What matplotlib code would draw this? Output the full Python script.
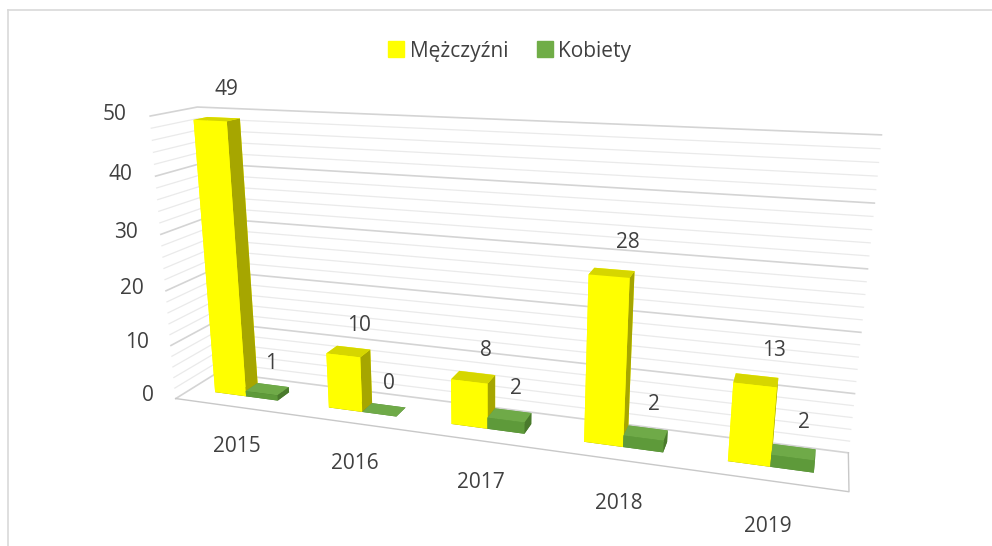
import numpy as np
import matplotlib
matplotlib.use("Agg")
import matplotlib.pyplot as plt
from matplotlib.lines import Line2D
from matplotlib.text import Text

years = ["2015", "2016", "2017", "2018", "2019"]
men = [49, 10, 8, 28, 13]
women = [1, 0, 2, 2, 2]
series_names = ["Mężczyźni", "Kobiety"]
z_ticks = [0, 10, 20, 30, 40, 50]
z_minor_step = 2

FONT = "Open Sans"
TXT = "#404040"
FS = 15

fig = plt.figure(figsize=(9.92, 5.46), dpi=100)
S = 546
cx = 484
ax = fig.add_axes([(cx - S / 2) / 992, -15 / 546, S / 992, 1],
                  projection="3d", proj_type="persp", focal_length=0.35)
ax.set_axis_off()
ax.computed_zorder = False

xmin, xmax = -0.5, len(years) - 0.5
ymin, ymax = 0.0, 1.0
zmin, zmax = z_ticks[0], z_ticks[-1]
ax.set_xlim(xmin, xmax)
ax.set_ylim(ymin, ymax)
ax.set_zlim(zmin, zmax)
ax.set_xticks([])
ax.set_yticks([])
ax.set_zticks([])
ax.set_box_aspect((5, 0.6, 2.2), zoom=1.38)
ax.view_init(elev=16, azim=-72)

# hide the unused axis texts of the 3d axes
for t in ax.findobj(Text):
    t.set_visible(False)

artists = []
# walls: minor and major gridlines
for z in range(zmin, zmax + 1, z_minor_step):
    major = z in z_ticks
    artists += ax.plot([xmin, xmin, xmax], [ymin, ymax, ymax], [z, z, z],
                       color="#D4D4D4" if major else "#EAEAEA",
                       lw=1.2 if major else 0.9, zorder=1)

# floor outline
artists += ax.plot([xmin, xmax, xmax], [ymin, ymin, ymax], [zmin, zmin, zmin],
                   color="#C8C8C8", lw=1.0, zorder=1)

x = np.arange(len(years))
bar_w = 0.28
bar_y0 = 0.35
bar_d = 0.3
# face order: bottom, top, front, back, left, right
men_faces = ["#8C8C00", "#D6D600", "#FFFF00", "#FFFF00", "#FFFF00", "#A6A600"]
women_faces = ["#4E7F2F", "#6FAA48", "#5E9A3A", "#5E9A3A", "#5E9A3A", "#4A7A2C"]
n = len(years)
artists.append(ax.bar3d(x - bar_w, np.full(n, bar_y0), np.zeros(n), bar_w, bar_d, men,
                        color=men_faces * n, shade=False, linewidth=0, zorder=3))
artists.append(ax.bar3d(x, np.full(n, bar_y0), np.zeros(n), bar_w, bar_d, women,
                        color=women_faces * n, shade=False, linewidth=0, zorder=4))
for a in artists:
    a.set_clip_on(False)

for i in range(n):
    ax.text(x[i] - bar_w / 2 + 0.1, bar_y0 + bar_d / 2, men[i] + 5, str(men[i]),
            ha="center", va="center", fontsize=FS, color=TXT, family=FONT, zorder=6)
    ax.text(x[i] + bar_w / 2 + 0.05, bar_y0 + bar_d / 2, women[i] + 5, str(women[i]),
            ha="center", va="center", fontsize=FS, color=TXT, family=FONT, zorder=6)
    ax.text(x[i] + 0.02, ymin, zmin - 7.5, years[i],
            ha="center", va="center", fontsize=FS, color=TXT, family=FONT, zorder=6)

for z in z_ticks:
    ax.text(xmin - 0.2, ymin, z, str(z), ha="right", va="center",
            fontsize=FS, color=TXT, family=FONT, zorder=6)

handles = [Line2D([], [], marker="s", ls="none", markersize=11, color=c)
           for c in ["#FFFF00", "#70AD47"]]
fig.legend(handles, series_names, loc="center", bbox_to_anchor=(510 / 992, 1 - 51 / 546),
           ncol=2, frameon=False, handlelength=0.7, handletextpad=0.3, columnspacing=1.4,
           prop={"family": FONT, "size": FS}, labelcolor=TXT)

# outer border (top and left visible)
fig.add_artist(Line2D([8 / 992, 1], [1 - 10 / 546] * 2, color="#D9D9D9", lw=1.2))
fig.add_artist(Line2D([8 / 992] * 2, [0, 1 - 10 / 546], color="#D9D9D9", lw=1.2))

fig.savefig("out.png", dpi=100, facecolor="white")
